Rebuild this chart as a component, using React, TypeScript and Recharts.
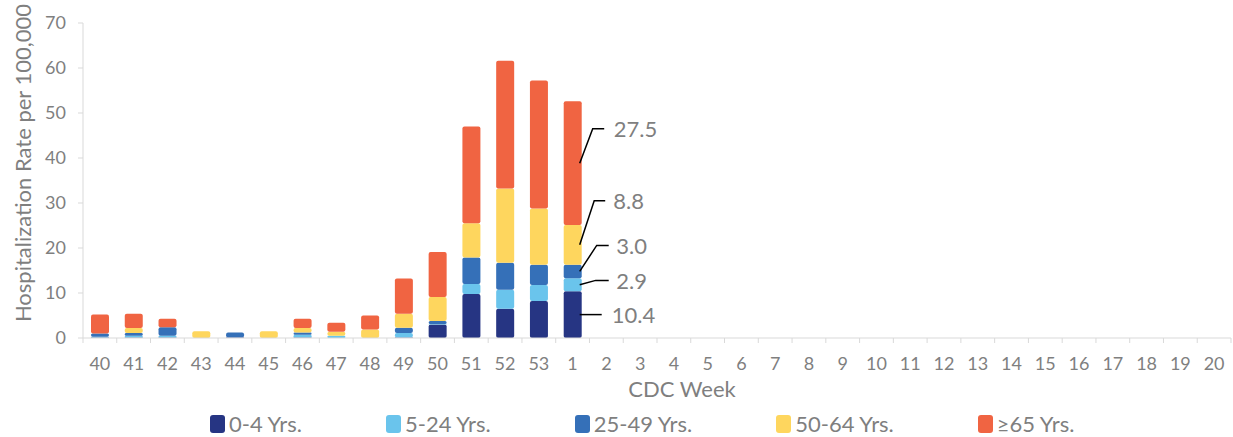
import { Bar, BarChart, LabelList, Legend, XAxis, YAxis } from 'recharts'

const weeks = [
    '40', '41', '42', '43', '44', '45', '46', '47', '48', '49', '50', '51', '52', '53',
    '1', '2', '3', '4', '5', '6', '7', '8', '9', '10', '11', '12', '13', '14', '15',
    '16', '17', '18', '19', '20',
]

// weeks 40 .. 53, 1 (later weeks have no data yet)
const age0to4 = [0.1, 0.1, 0.1, 0, 0.1, 0, 0.1, 0, 0, 0.1, 3.0, 9.8, 6.5, 8.2, 10.4]
const age5to24 = [0.2, 0.4, 0.4, 0, 0, 0, 0.6, 0.5, 0, 1.0, 0.1, 2.2, 4.2, 3.6, 2.9]
const age25to49 = [0.7, 0.6, 1.9, 0, 1.1, 0, 0.5, 0, 0, 1.2, 0.7, 5.9, 6.0, 4.5, 3.0]
const age50to64 = [0, 1.1, 0, 1.5, 0, 1.5, 1.0, 0.9, 1.9, 3.1, 5.3, 7.6, 16.5, 12.5, 8.8]
const age65plus = [4.2, 3.2, 1.9, 0, 0, 0, 2.1, 2.0, 3.1, 7.8, 10.0, 21.5, 28.4, 28.4, 27.5]

const yTicks = [0, 10, 20, 30, 40, 50, 60, 70]
const annotatedWeek = '1'

const SERIES = [
    { key: 'a0_4', name: '0-4 Yrs.', color: '#263583', values: age0to4 },
    { key: 'a5_24', name: '5-24 Yrs.', color: '#6ac4ec', values: age5to24 },
    { key: 'a25_49', name: '25-49 Yrs.', color: '#3570b8', values: age25to49 },
    { key: 'a50_64', name: '50-64 Yrs.', color: '#fed65e', values: age50to64 },
    { key: 'a65', name: '≥65 Yrs.', color: '#f06442', values: age65plus },
]

const data = weeks.map((week, i) => {
    const row: Record<string, string | number | null> = { week }
    SERIES.forEach((s) => {
        row[s.key] = s.values[i] ?? null
    })
    return row
})

const WIDTH = 1233
const HEIGHT = 437
const Y_AXIS_W = 83
const RIGHT = 2
const BAND = (WIDTH - Y_AXIS_W - RIGHT) / weeks.length
const FONT = 'Lato, "Open Sans", sans-serif'
const GREY = '#7f7f7f'
const AXIS = '#d9d9d9'

// leader line offsets, relative to bar right edge / segment middle
const LEADERS: Record<string, { ex: number; ey: number; hx: number; tx: number }> = {
    a65: { ex: 11, ey: -34.5, hx: 22.5, tx: 32 },
    a50_64: { ex: 12.5, ey: -44, hx: 23.5, tx: 31.5 },
    a25_49: { ex: 15, ey: -26, hx: 27, tx: 34.5 },
    a5_24: { ex: 14, ey: -4.3, hx: 27, tx: 34.5 },
    a0_4: { ex: 20, ey: 0, hx: 20, tx: 30 },
}

function makeLeader(key: string) {
    return (props: any) => {
        if (props.value == null || props.value === '') return null
        const o = LEADERS[key]
        const right = Number(props.x) + Number(props.width)
        const cy = Number(props.y) + Number(props.height) / 2
        const sx = right - 2
        const ey = cy + o.ey
        return (
            <g>
                <polyline
                    points={`${sx},${cy} ${right + o.ex},${ey} ${right + o.hx},${ey}`}
                    fill="none"
                    stroke="#000"
                    strokeWidth={1.5}
                />
                <text
                    x={right + o.tx}
                    y={ey}
                    fill={GREY}
                    fontSize={22}
                    fontFamily={FONT}
                    dominantBaseline="central"
                >
                    {Number(props.value).toFixed(1)}
                </text>
            </g>
        )
    }
}

function WeekTick(props: any) {
    const { x, y, payload } = props
    const last = payload.index === weeks.length - 1
    return (
        <g>
            <line x1={x - BAND / 2} x2={x - BAND / 2} y1={y} y2={y + 5} stroke={AXIS} />
            {last && <line x1={x + BAND / 2} x2={x + BAND / 2} y1={y} y2={y + 5} stroke={AXIS} />}
            <text x={x} y={y + 25} textAnchor="middle" dominantBaseline="central" fill={GREY} fontSize={18} fontFamily={FONT}>
                {payload.value}
            </text>
        </g>
    )
}

function LegendContent() {
    return (
        <div
            style={{
                display: 'flex',
                height: 40,
                boxSizing: 'border-box',
                paddingTop: 14,
                paddingLeft: 210,
                gap: 84,
                fontFamily: FONT,
                fontSize: 22,
                color: GREY,
                lineHeight: '20px',
            }}
        >
            {SERIES.map((s) => (
                <div key={s.key} style={{ display: 'flex', alignItems: 'center' }}>
                    <span
                        style={{
                            display: 'inline-block',
                            width: 15,
                            height: 18,
                            background: s.color,
                            borderRadius: 3,
                            marginRight: 4,
                        }}
                    />
                    {s.name}
                </div>
            ))}
        </div>
    )
}

export default function App() {
    return (
        <div style={{ position: 'absolute', left: 0, top: 0, background: '#fff' }}>
            <BarChart
                width={WIDTH}
                height={HEIGHT}
                data={data}
                margin={{ top: 23, right: RIGHT, left: 0, bottom: 0 }}
            >
                <XAxis
                    dataKey="week"
                    height={59}
                    interval={0}
                    tickLine={false}
                    tickSize={0}
                    tickMargin={0}
                    stroke={AXIS}
                    tick={<WeekTick />}
                    label={{
                        content: () => (
                            <text x={682} y={388} textAnchor="middle" dominantBaseline="central" fill={GREY} fontSize={22} fontFamily={FONT}>
                                CDC Week
                            </text>
                        ),
                    }}
                />
                <YAxis
                    width={Y_AXIS_W}
                    domain={[0, 70]}
                    ticks={yTicks}
                    interval={0}
                    stroke={AXIS}
                    tickSize={5}
                    tickMargin={12}
                    tick={{ fill: GREY, fontSize: 18, fontFamily: FONT }}
                    label={{
                        content: () => (
                            <text
                                transform="translate(22,163) rotate(-90)"
                                textAnchor="middle"
                                dominantBaseline="central"
                                fill={GREY}
                                fontSize={22}
                                fontFamily={FONT}
                            >
                                Hospitalization Rate per 100,000
                            </text>
                        ),
                    }}
                />
                <Legend verticalAlign="bottom" height={40} content={<LegendContent />} />
                {SERIES.map((s) => (
                    <Bar
                        key={s.key}
                        dataKey={s.key}
                        name={s.name}
                        stackId="rate"
                        fill={s.color}
                        barSize={18}
                        radius={2}
                        isAnimationActive={false}
                    >
                        <LabelList
                            dataKey={(row: any) => (row.week === annotatedWeek ? row[s.key] : null)}
                            content={makeLeader(s.key)}
                        />
                    </Bar>
                ))}
            </BarChart>
        </div>
    )
}
